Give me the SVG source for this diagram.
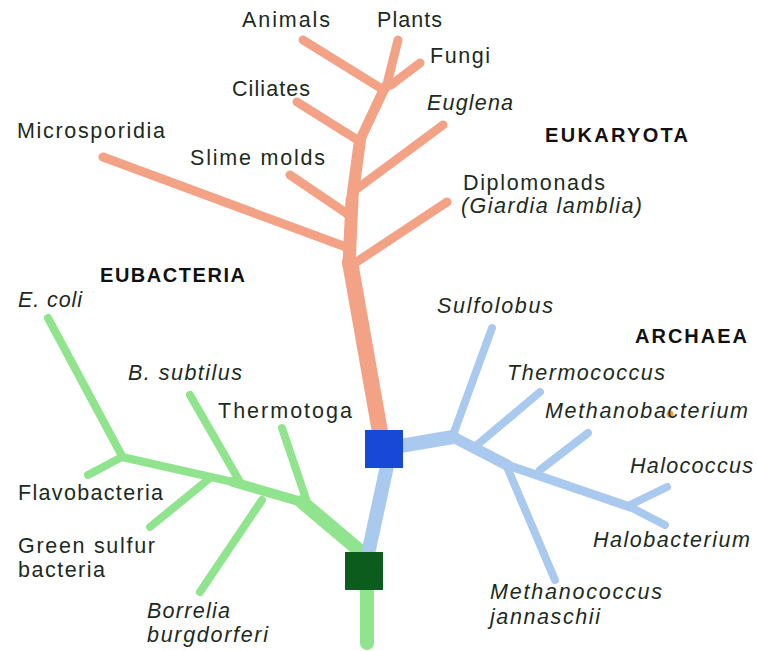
<svg xmlns="http://www.w3.org/2000/svg" width="757" height="651" viewBox="0 0 757 651">
<style>
.t{font-family:"Liberation Sans",Arial,sans-serif;font-size:21.5px;fill:#1b2b1d}
.i{font-style:italic}
.b{font-weight:bold;font-size:20px;fill:#111}
.o{stroke:#f3a285;fill:none;stroke-linecap:round;stroke-linejoin:round}
.g{stroke:#8fe48d;fill:none;stroke-linecap:round;stroke-linejoin:round}
.u{stroke:#aac9ee;fill:none;stroke-linecap:round;stroke-linejoin:round}
</style>
<rect width="757" height="651" fill="#ffffff"/>
<g id="connectors">
  <!-- Eukaryota -->
  <g class="o">
    <path d="M350,262 L380,432" stroke-width="16"/>
    <path d="M352,200 L349,265" stroke-width="13"/>
    <path d="M360,140 L352,200" stroke-width="12"/>
    <path d="M385,87 L360,140" stroke-width="10"/>
    <path d="M303,40 L382,89" stroke-width="9"/>
    <path d="M398,40 L386,88" stroke-width="9"/>
    <path d="M420,63 L391,85" stroke-width="9"/>
    <path d="M297,102 L356,139" stroke-width="9"/>
    <path d="M443,125 L358,188" stroke-width="9"/>
    <path d="M290,175 L349,215" stroke-width="9"/>
    <path d="M103,157 L346,247" stroke-width="9"/>
    <path d="M447,202 L352,265" stroke-width="9"/>
  </g>
  <!-- Eubacteria -->
  <g class="g">
    <path d="M122,457 L233,482" stroke-width="8"/>
    <path d="M233,482 L302,502" stroke-width="10"/>
    <path d="M302,502 L366,556" stroke-width="14"/>
    <path d="M48,318 L122,456" stroke-width="8"/>
    <path d="M88,475 L122,457" stroke-width="8"/>
    <path d="M190,395 L240,482" stroke-width="8"/>
    <path d="M282,428 L307,502" stroke-width="8"/>
    <path d="M150,527 L210,478" stroke-width="8"/>
    <path d="M200,592 L262,500" stroke-width="8"/>
    <path d="M367,588 L367,643" stroke-width="14"/>
  </g>
  <!-- Archaea -->
  <g class="u">
    <path d="M387,466 L368,554" stroke-width="14"/>
    <path d="M400,446 L453,437" stroke-width="14"/>
    <path d="M453,437 L507,465" stroke-width="11"/>
    <path d="M507,465 L630,507" stroke-width="9"/>
    <path d="M630,507 L665,525" stroke-width="8"/>
    <path d="M492,328 L453,435" stroke-width="8"/>
    <path d="M540,392 L477,445" stroke-width="8"/>
    <path d="M588,433 L540,470" stroke-width="8"/>
    <path d="M667,487 L630,505" stroke-width="8"/>
    <path d="M507,467 L555,580" stroke-width="8"/>
  </g>
</g>
<g id="root-eukarya-archaea"><rect x="365" y="430" width="38" height="38" fill="#1748d6"/></g>
<g id="root-universal"><rect x="345" y="552" width="38" height="38" fill="#0b5c1d"/></g>
<g id="dot"><circle cx="670" cy="414" r="3.5" fill="#f5a623"/></g>
<g id="label-eukaryota"><text class="t b" x="545" y="142" textLength="143" lengthAdjust="spacing">EUKARYOTA</text></g>
<g id="label-eubacteria"><text class="t b" x="100" y="282" textLength="145" lengthAdjust="spacing">EUBACTERIA</text></g>
<g id="label-archaea"><text class="t b" x="635" y="343" textLength="112" lengthAdjust="spacing">ARCHAEA</text></g>
<g id="animals"><text class="t" x="242" y="27" textLength="88" lengthAdjust="spacing">Animals</text></g>
<g id="plants"><text class="t" x="377" y="27" textLength="65" lengthAdjust="spacing">Plants</text></g>
<g id="fungi"><text class="t" x="430" y="63" textLength="60" lengthAdjust="spacing">Fungi</text></g>
<g id="ciliates"><text class="t" x="232" y="96" textLength="78" lengthAdjust="spacing">Ciliates</text></g>
<g id="euglena"><text class="t i" x="427" y="110" textLength="86" lengthAdjust="spacing">Euglena</text></g>
<g id="microsporidia"><text class="t" x="17" y="138" textLength="148" lengthAdjust="spacing">Microsporidia</text></g>
<g id="slime-molds"><text class="t" x="190" y="165" textLength="135" lengthAdjust="spacing">Slime molds</text></g>
<g id="diplomonads"><text class="t" x="463" y="190" textLength="142" lengthAdjust="spacing">Diplomonads</text><text class="t i" x="461" y="213" textLength="181" lengthAdjust="spacing">(Giardia lamblia)</text></g>
<g id="ecoli"><text class="t i" x="18" y="307" textLength="64" lengthAdjust="spacing">E. coli</text></g>
<g id="bsubtilus"><text class="t i" x="128" y="380" textLength="114" lengthAdjust="spacing">B. subtilus</text></g>
<g id="thermotoga"><text class="t" x="218" y="418" textLength="134" lengthAdjust="spacing">Thermotoga</text></g>
<g id="flavobacteria"><text class="t" x="18" y="500" textLength="145" lengthAdjust="spacing">Flavobacteria</text></g>
<g id="green-sulfur"><text class="t" x="18" y="553" textLength="137" lengthAdjust="spacing">Green sulfur</text><text class="t" x="18" y="577" textLength="87" lengthAdjust="spacing">bacteria</text></g>
<g id="borrelia"><text class="t i" x="147" y="618" textLength="83" lengthAdjust="spacing">Borrelia</text><text class="t i" x="147" y="642" textLength="121" lengthAdjust="spacing">burgdorferi</text></g>
<g id="sulfolobus"><text class="t i" x="437" y="313" textLength="116" lengthAdjust="spacing">Sulfolobus</text></g>
<g id="thermococcus"><text class="t i" x="507" y="380" textLength="158" lengthAdjust="spacing">Thermococcus</text></g>
<g id="methanobacterium"><text class="t i" x="545" y="418" textLength="203" lengthAdjust="spacing">Methanobacterium</text></g>
<g id="halococcus"><text class="t i" x="630" y="473" textLength="123" lengthAdjust="spacing">Halococcus</text></g>
<g id="halobacterium"><text class="t i" x="593" y="547" textLength="157" lengthAdjust="spacing">Halobacterium</text></g>
<g id="methanococcus"><text class="t i" x="490" y="599" textLength="172" lengthAdjust="spacing">Methanococcus</text><text class="t i" x="490" y="624" textLength="110" lengthAdjust="spacing">jannaschii</text></g>
</svg>
